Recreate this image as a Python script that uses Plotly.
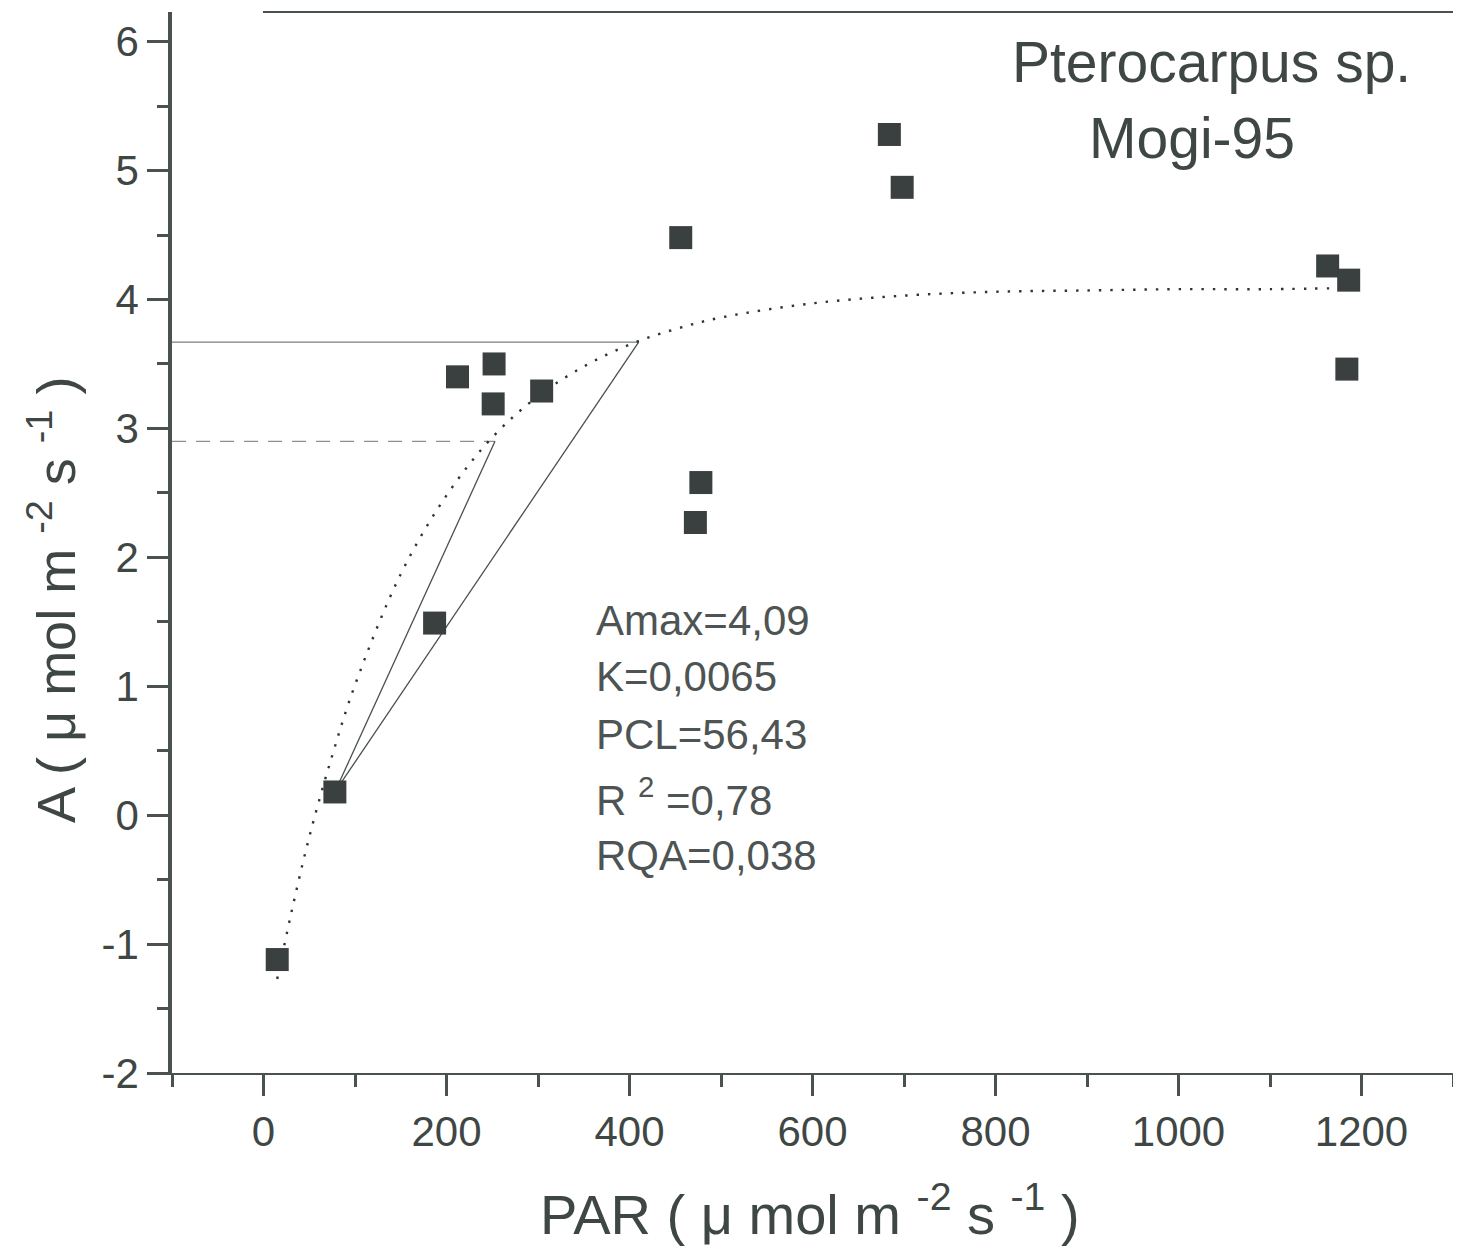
import plotly.graph_objects as go

# ---- data ----
par = [15, 78, 187, 212, 252, 251, 304, 456, 472, 478, 684, 698, 1163, 1186, 1184]
a_obs = [-1.12, 0.18, 1.49, 3.40, 3.50, 3.19, 3.29, 4.48, 2.27, 2.58, 5.28, 4.87, 4.26, 4.15, 3.46]

fit_par = [15, 30, 50, 75, 100, 150, 200, 250, 300, 350, 400, 450, 500, 600, 700, 800, 900, 1000, 1100, 1190]
fit_a = [-1.27, -0.77, -0.17, 0.46, 1.01, 1.87, 2.48, 2.93, 3.25, 3.48, 3.65, 3.77, 3.86, 3.97, 4.03, 4.06, 4.07, 4.08, 4.08, 4.09]

upper_h_x = [-100, 410]
upper_h_y = [3.67, 3.67]
lower_h_x = [-100, 253]
lower_h_y = [2.90, 2.90]
tan1_x = [78, 253]
tan1_y = [0.18, 2.90]
tan2_x = [78, 410]
tan2_y = [0.18, 3.67]

x_tick_vals = [0, 200, 400, 600, 800, 1000, 1200]
x_tick_text = ["0", "200", "400", "600", "800", "1000", "1200"]
y_tick_vals = [-2, -1, 0, 1, 2, 3, 4, 5, 6]
y_tick_text = ["-2", "-1", "0", "1", "2", "3", "4", "5", "6"]

stats_lines = ["Amax=4,09", "K=0,0065", "PCL=56,43", "R <sup>2</sup> =0,78", "RQA=0,038"]

AX = "#4a5250"
TXT = "#3f4745"
FONT = "Liberation Sans, Arial, sans-serif"

fig = go.Figure()

fig.add_trace(go.Scatter(x=upper_h_x, y=upper_h_y, mode="lines",
                         line=dict(color="#7a7f7e", width=1.3), hoverinfo="skip"))
fig.add_trace(go.Scatter(x=lower_h_x, y=lower_h_y, mode="lines",
                         line=dict(color="#8a8f8e", width=1.3, dash="14px,10px"), hoverinfo="skip"))
fig.add_trace(go.Scatter(x=tan1_x, y=tan1_y, mode="lines",
                         line=dict(color="#4a4f4f", width=1.3), hoverinfo="skip"))
fig.add_trace(go.Scatter(x=tan2_x, y=tan2_y, mode="lines",
                         line=dict(color="#4a4f4f", width=1.3), hoverinfo="skip"))
fig.add_trace(go.Scatter(x=fit_par, y=fit_a, mode="lines",
                         line=dict(color="#2e3333", width=2.4, dash="2.4px,9px", shape="spline"),
                         hoverinfo="skip"))
fig.add_trace(go.Scatter(x=par, y=a_obs, mode="markers",
                         marker=dict(symbol="square", size=23, color="#3a3f40",
                                     line=dict(width=0))))

fig.update_layout(
    width=1461, height=1256,
    margin=dict(l=164, r=16, t=4, b=191),
    paper_bgcolor="white", plot_bgcolor="white",
    showlegend=False,
    font=dict(family=FONT, color=TXT),
)

fig.update_xaxes(
    range=[-100, 1300], showgrid=False, zeroline=False,
    showline=True, linecolor=AX, linewidth=2,
    ticks="outside", ticklen=21, tickwidth=3, tickcolor=AX,
    tickvals=x_tick_vals, ticktext=x_tick_text,
    tickfont=dict(size=42, color=TXT, family=FONT),
    minor=dict(ticks="outside", ticklen=12, tickwidth=3, tickcolor=AX, dtick=100, tick0=0, showgrid=False),
)
fig.update_yaxes(
    range=[-2, 6.23], showgrid=False, zeroline=False,
    showline=True, linecolor=AX, linewidth=3.5, mirror=True,
    ticks="outside", ticklen=21, tickwidth=3, tickcolor=AX,
    tickvals=y_tick_vals, ticktext=y_tick_text,
    tickfont=dict(size=42, color=TXT, family=FONT),
    minor=dict(ticks="outside", ticklen=11, tickwidth=3, tickcolor=AX, dtick=0.5, tick0=0, showgrid=False),
)

# top border (starts a little right of the left axis in the original)
fig.add_shape(type="line", xref="paper", yref="paper", x0=0.071, x1=1.0, y0=1.0, y1=1.0,
              line=dict(color=AX, width=2))

W, H = 1281.0, 1061.0
def px(xp):
    return (xp - 172) / W
def py(yp):
    return (1073 - yp) / H

fig.add_annotation(text="Pterocarpus sp.", x=px(1211), y=py(62), xref="paper", yref="paper",
                   showarrow=False, font=dict(size=57, color=TXT, family=FONT),
                   xanchor="center", yanchor="middle")
fig.add_annotation(text="Mogi-95", x=px(1192), y=py(138), xref="paper", yref="paper",
                   showarrow=False, font=dict(size=57, color=TXT, family=FONT),
                   xanchor="center", yanchor="middle")

stat_y = [620, 676, 734, 797, 856]
for t, yy in zip(stats_lines, stat_y):
    fig.add_annotation(text=t, x=px(594), y=py(yy), xref="paper", yref="paper",
                       showarrow=False, font=dict(size=42, color="#4d5453", family=FONT),
                       xanchor="left", yanchor="middle")

fig.add_annotation(text="PAR ( \u03bc mol m <sup>-2</sup> s <sup>-1</sup> )", x=px(810), y=py(1210),
                   xref="paper", yref="paper", showarrow=False,
                   font=dict(size=56, color=TXT, family=FONT), xanchor="center", yanchor="middle")
fig.add_annotation(text="A ( \u03bc mol m <sup>-2</sup> s <sup>-1</sup> )", x=px(52), y=py(600),
                   xref="paper", yref="paper", showarrow=False, textangle=-90,
                   font=dict(size=54, color=TXT, family=FONT), xanchor="center", yanchor="middle")

fig.write_html("out.html")
